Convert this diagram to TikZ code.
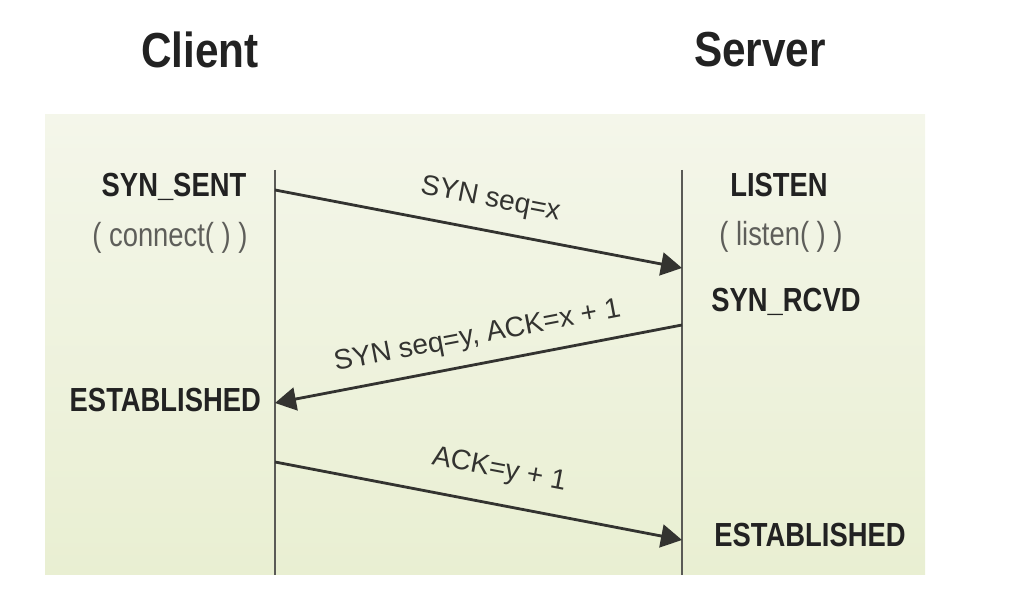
\documentclass[tikz,border=0pt]{standalone}
\usepackage{fontspec}
\setmainfont{Liberation Sans}
\newfontfamily\narrowfont[FakeStretch=0.82]{Liberation Sans}
\newfontfamily\titlefont[FakeStretch=0.86]{Liberation Sans}
\usepackage{xcolor}
\usetikzlibrary{arrows.meta,positioning,calc}
\definecolor{panelT}{HTML}{F4F6EA}
\definecolor{panelB}{HTML}{E9EFD2}
\definecolor{lifeC}{HTML}{5A5A56}
\definecolor{msgC}{HTML}{333330}
\definecolor{stateC}{HTML}{222222}
\definecolor{callC}{HTML}{5E5E5A}

\begin{document}
\begin{tikzpicture}[x=1cm, y=1cm,
  title/.style={font=\titlefont\bfseries\fontsize{28}{30}\selectfont, text=stateC},
  state/.style={font=\narrowfont\bfseries\fontsize{19}{21}\selectfont, text=stateC, inner sep=1pt},
  call/.style={font=\narrowfont\fontsize{19}{21}\selectfont, text=callC, inner sep=1pt},
  msglabel/.style={font=\fontsize{16}{18}\selectfont, text=msgC, sloped, inner sep=1pt},
  lifeline/.style={line width=1.1pt, draw=lifeC},
  msg/.style={line width=1.6pt, draw=msgC, -{Triangle[length=0.42cm,width=0.46cm]}},
  ]
\useasboundingbox (0,0) rectangle (20.72,11.96);

% === panel
\shade[top color=panelT, bottom color=panelB] (0.90,0.46) rectangle (18.50,9.66);

% === titles
\node[title] (client) at (4.00,10.96) {Client};
\node[title] (server) at (15.20,10.96) {Server};

% === lifelines
\coordinate (ctop) at (5.50,8.56);
\coordinate (cbot) at (5.50,0.46);
\coordinate (stop) at (13.64,8.56);
\coordinate (sbot) at (13.64,0.46);
\draw[lifeline] (ctop) -- (cbot);
\draw[lifeline] (stop) -- (sbot);

% === message end points
\coordinate (c1) at (5.50,8.16);
\coordinate (s1) at (13.64,6.60);
\coordinate (s2) at (13.64,5.46);
\coordinate (c2) at (5.50,3.90);
\coordinate (c3) at (5.50,2.72);
\coordinate (s3) at (13.64,1.16);

% === messages
\draw[msg] (c1) -- node[msglabel, pos=0.515, above=0.30cm] (m1) {SYN seq=x} (s1);
\draw[msg] (s2) -- node[msglabel, pos=0.49, above=0.22cm] (m2) {SYN seq=y, ACK=x + 1} (c2);
\draw[msg] (c3) -- node[msglabel, pos=0.535, above=0.36cm] (m3) {ACK=y + 1} (s3);

% === client states
\node[state] (synsent) at (3.48,8.22) {SYN\_SENT};
\node[call] (connect) at (3.40,7.20) {( connect( ) )};
\node[state, anchor=east] (cest) at (5.26,3.96) {ESTABLISHED};

% === server states
\node[state] (listen) at (15.58,8.26) {LISTEN};
\node[call] (listencall) at (15.62,7.22) {( listen( ) )};
\node[state] (synrcvd) at (15.72,5.92) {SYN\_RCVD};
\node[state] (sest) at (16.20,1.26) {ESTABLISHED};

\end{tikzpicture}
\end{document}
